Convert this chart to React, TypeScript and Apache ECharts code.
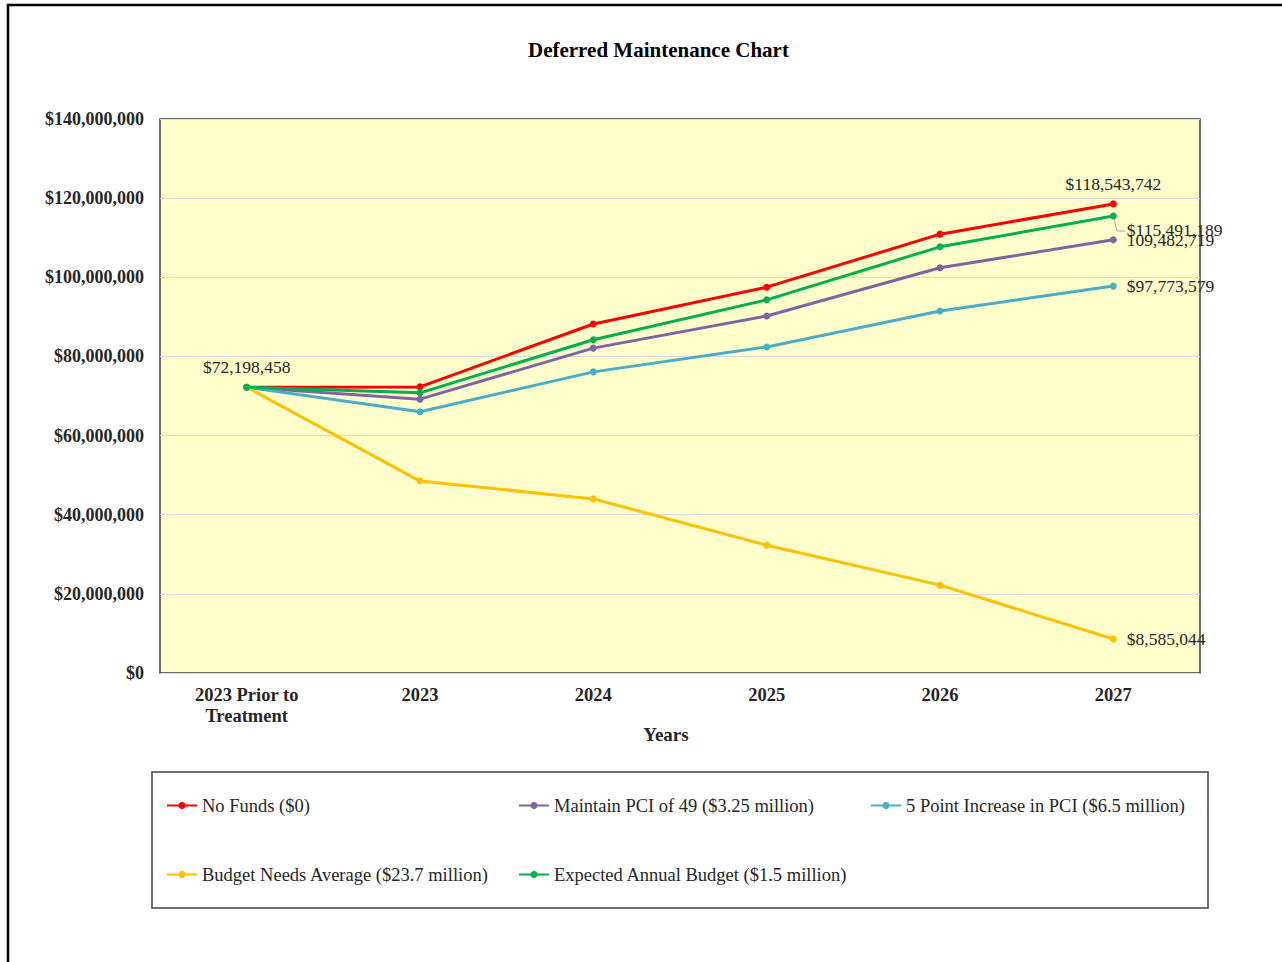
import React, { useEffect, useRef } from "react";
import * as echarts from "echarts";

const categories = ["2023 Prior to\nTreatment", "2023", "2024", "2025", "2026", "2027"];
const noFunds = [72198458, 72300000, 88200000, 97500000, 110900000, 118543742];
const maintainPci = [72198458, 69200000, 82100000, 90200000, 102400000, 109482719];
const fivePoint = [72198458, 66000000, 76100000, 82400000, 91500000, 97773579];
const budgetNeeds = [72198458, 48500000, 44000000, 32300000, 22200000, 8585044];
const expected = [72198458, 70800000, 84200000, 94300000, 107700000, 115491189];
const seriesNames = [
  "No Funds ($0)",
  "Maintain PCI of 49 ($3.25 million)",
  "5 Point Increase in PCI ($6.5 million)",
  "Budget Needs Average ($23.7 million)",
  "Expected Annual Budget ($1.5 million)",
];
const colors = ["#FF0000", "#8064A2", "#4BACC6", "#FFC000", "#00B050"];

const FONT = "'Liberation Serif', 'Times New Roman', serif";

const money = (v: number) => "$" + Math.round(v).toLocaleString("en-US");

export default function App() {
  const ref = useRef<HTMLDivElement>(null);
  useEffect(() => {
    if (!ref.current) return;
    const chart = echarts.init(ref.current, undefined, { renderer: "svg" });
    const labelStyle = { fontFamily: FONT, fontSize: 17.5, color: "#262626" };
    const mkData = (vals: number[], lastLabel: any, firstLabel?: any) =>
      vals.map((v, i) => {
        if (i === vals.length - 1 && lastLabel) return { value: v, label: lastLabel };
        if (i === 0 && firstLabel) return { value: v, label: firstLabel };
        return v;
      });
    const base = (name: string, color: string, data: any[], extra: any = {}) => ({
      type: "line",
      name,
      data,
      color,
      symbol: "circle",
      symbolSize: 7,
      lineStyle: { width: 3, color },
      itemStyle: { color },
      label: { show: false },
      z: 2,
      ...extra,
    });
    const series = [
      base(
        seriesNames[0],
        colors[0],
        mkData(noFunds, { show: true, position: "top", distance: 7, formatter: (p: any) => money(p.value), ...labelStyle })
      ),
      base(
        seriesNames[1],
        colors[1],
        mkData(maintainPci, {
          show: true,
          position: "right",
          distance: 10,
          formatter: (p: any) => Math.round(p.value).toLocaleString("en-US"),
          ...labelStyle,
        })
      ),
      base(
        seriesNames[2],
        colors[2],
        mkData(fivePoint, { show: true, position: "right", distance: 10, formatter: (p: any) => money(p.value), ...labelStyle })
      ),
      base(
        seriesNames[3],
        colors[3],
        mkData(budgetNeeds, { show: true, position: "right", distance: 10, formatter: (p: any) => money(p.value), ...labelStyle })
      ),
      base(
        seriesNames[4],
        colors[4],
        mkData(
          expected,
          { show: true, position: "right", distance: 10, offset: [0, 14], formatter: (p: any) => money(p.value), ...labelStyle },
          { show: true, position: "top", distance: 8, formatter: (p: any) => money(p.value), ...labelStyle }
        )
      ),
    ];

    const legendPos = [
      [166, 796],
      [518, 796],
      [870, 796],
      [166, 865],
      [518, 865],
    ];
    const legends = seriesNames.map((n, i) => ({
      data: [n],
      left: legendPos[i][0],
      top: legendPos[i][1],
      padding: 0,
      itemWidth: 30,
      itemHeight: 9,
      itemGap: 0,
      textStyle: { fontFamily: FONT, fontSize: 18.5, color: "#262626" },
      selectedMode: false,
    }));

    chart.setOption({
      animation: false,
      backgroundColor: "#ffffff",
      title: {
        text: "Deferred Maintenance Chart",
        left: 528,
        top: 39,
        padding: 0,
        textStyle: { fontFamily: FONT, fontSize: 21, fontWeight: "bold", color: "#000" },
      },
      legend: legends,
      grid: {
        left: 160,
        right: 82,
        top: 119,
        bottom: 289,
        show: true,
        backgroundColor: "#FFFFCC",
        borderColor: "#404040",
        borderWidth: 1.5,
      },
      xAxis: {
        type: "category",
        data: categories,
        boundaryGap: true,
        axisLine: { show: false },
        axisTick: { show: false },
        axisLabel: {
          fontFamily: FONT,
          fontSize: 18.5,
          fontWeight: "bold",
          color: "#262626",
          margin: 11,
          lineHeight: 21,
          interval: 0,
        },
        name: "Years",
        nameLocation: "middle",
        nameGap: 52,
        nameMoveOverlap: false,
        nameTextStyle: { fontFamily: FONT, fontSize: 19, fontWeight: "bold", color: "#262626", padding: [0, 28, 0, 0] },
      },
      yAxis: {
        type: "value",
        min: 0,
        max: 140000000,
        interval: 20000000,
        axisLine: { show: false },
        axisTick: { show: false },
        splitLine: { show: true, lineStyle: { color: "#D9D9D9", width: 1 } },
        axisLabel: {
          fontFamily: FONT,
          fontSize: 18,
          fontWeight: "bold",
          color: "#262626",
          margin: 16,
          formatter: (v: number) => money(v),
        },
      },
      graphic: [
        {
          type: "rect",
          shape: { x: 8, y: 5, width: 1300, height: 1000 },
          style: { fill: "none", stroke: "#000", lineWidth: 2.5 },
          silent: true,
        },
        {
          type: "rect",
          shape: { x: 152, y: 772, width: 1056, height: 136 },
          style: { fill: "none", stroke: "#404040", lineWidth: 1.5 },
          silent: true,
        },
        {
          type: "line",
          shape: { x1: 1114, y1: 219, x2: 1117, y2: 231 },
          style: { stroke: "#A6A6A6", lineWidth: 1 },
          silent: true,
          z: 10,
        },
        {
          type: "line",
          shape: { x1: 1117, y1: 231, x2: 1125, y2: 231 },
          style: { stroke: "#A6A6A6", lineWidth: 1 },
          silent: true,
          z: 10,
        },
      ],
      series,
    });
    return () => chart.dispose();
  }, []);
  return (
    <div
      ref={ref}
      style={{ position: "absolute", left: 0, top: 0, width: 1282, height: 962 }}
    />
  );
}
